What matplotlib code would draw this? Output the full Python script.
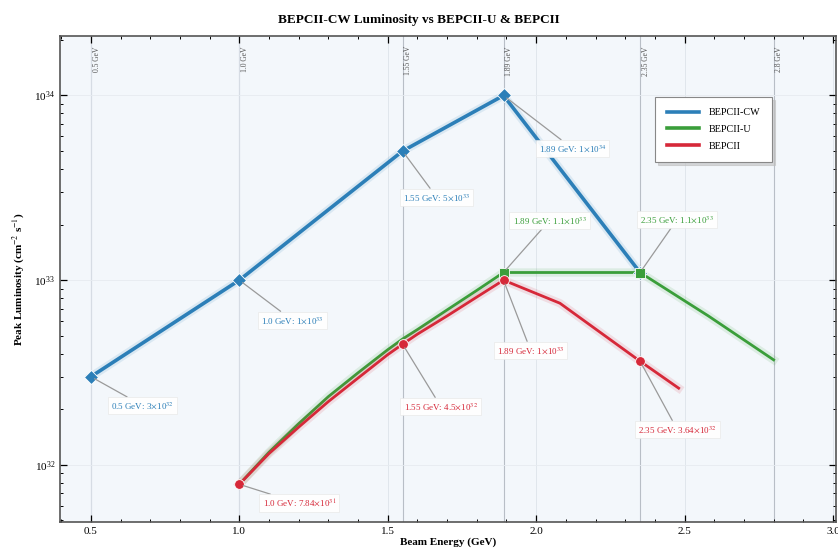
import matplotlib
matplotlib.use("Agg")
import matplotlib.pyplot as plt
import matplotlib.patheffects as pe
from matplotlib.ticker import MultipleLocator, LogLocator, NullFormatter

plt.rcParams['font.family'] = ['Liberation Serif', 'DejaVu Serif']
plt.rcParams['mathtext.fontset'] = 'stix'

# ---- data ----
cw_E = [0.5, 1.0, 1.55, 1.89, 2.35]
cw_L = [3e32, 1e33, 5e33, 1e34, 1.1e33]

u_E = [1.0, 1.1, 1.2, 1.3, 1.4, 1.5, 1.55, 1.6, 1.7, 1.8, 1.89, 2.35, 2.58, 2.8]
u_L = [7.84e31, 1.17e32, 1.67e32, 2.34e32, 3.15e32, 4.2e32, 4.8e32, 5.4e32,
       6.9e32, 8.8e32, 1.1e33, 1.1e33, 6.4e32, 3.7e32]
u_mark_E = [1.89, 2.35]
u_mark_L = [1.1e33, 1.1e33]

b_E = [1.0, 1.1, 1.2, 1.3, 1.4, 1.5, 1.55, 1.6, 1.7, 1.8, 1.89, 2.08, 2.35, 2.48]
b_L = [7.84e31, 1.15e32, 1.6e32, 2.2e32, 2.95e32, 3.95e32, 4.5e32, 5.1e32,
       6.4e32, 8.1e32, 1.0e33, 7.5e32, 3.64e32, 2.6e32]
b_mark_E = [1.0, 1.55, 1.89, 2.35]
b_mark_L = [7.84e31, 4.5e32, 1.0e33, 3.64e32]

vline_E = [0.5, 1.0, 1.55, 1.89, 2.35, 2.8]
vline_labels = ['0.5 GeV', '1.0 GeV', '1.55 GeV', '1.89 GeV', '2.35 GeV', '2.8 GeV']

cw_notes = ['0.5 GeV: 3$\\times$10$^{32}$', '1.0 GeV: 1$\\times$10$^{33}$',
            '1.55 GeV: 5$\\times$10$^{33}$', '1.89 GeV: 1$\\times$10$^{34}$']
u_notes = ['1.89 GeV: 1.1$\\times$10$^{33}$', '2.35 GeV: 1.1$\\times$10$^{33}$']
b_notes = ['1.0 GeV: 7.84$\\times$10$^{31}$', '1.55 GeV: 4.5$\\times$10$^{32}$',
           '1.89 GeV: 1$\\times$10$^{33}$', '2.35 GeV: 3.64$\\times$10$^{32}$']

c_cw = '#2c7fb8'
c_u = '#3a9e3a'
c_b = '#d62839'

fig = plt.figure(figsize=(8.38, 5.58), dpi=100)
ax = fig.add_axes([60/838, 36/558, 776/838, 486/558])
ax.set_facecolor('#f3f7fb')

ax.set_yscale('log')
ax.set_xlim(0.396, 3.01)
ax.set_ylim(4.9e31, 2.1e34)

ax.grid(True, which='major', axis='x', color='#dde3ea', lw=0.6)
ax.grid(True, which='major', axis='y', color='#e6ebf0', lw=0.6)

for e, lab in zip(vline_E, vline_labels):
    ax.axvline(e, color='#b8bec6', lw=0.8, zorder=1)
    ax.text(e + 0.006, 1.85e34, lab, rotation=90, va='top', ha='left',
            fontsize=5.5, color='#555555')

glow = lambda c: [pe.Stroke(linewidth=6, foreground=c, alpha=0.12), pe.Normal()]

ax.plot(cw_E, cw_L, color=c_cw, lw=2.6, label='BEPCII-CW', zorder=5,
        path_effects=glow(c_cw))
ax.plot(cw_E, cw_L, ls='none', color=c_cw, marker='D', ms=7, mec='white',
        mew=0.6, zorder=6)
ax.plot(u_E, u_L, color=c_u, lw=2.0, label='BEPCII-U', zorder=4,
        path_effects=glow(c_u))
ax.plot(u_mark_E, u_mark_L, ls='none', color=c_u, marker='s', ms=7, mec='white',
        mew=0.6, zorder=6)
ax.plot(b_E, b_L, color=c_b, lw=2.0, label='BEPCII', zorder=4,
        path_effects=glow(c_b))
ax.plot(b_mark_E, b_mark_L, ls='none', color=c_b, marker='o', ms=7, mec='white',
        mew=0.6, zorder=6)

def note(x, y, txt, off, col):
    ax.annotate(txt, xy=(x, y), xytext=off, textcoords='offset pixels',
                ha='center', va='center', fontsize=6.5, color=col, zorder=7,
                bbox=dict(boxstyle='square,pad=0.35', fc='white', ec='#e8e8e8',
                          lw=0.5, alpha=0.95),
                arrowprops=dict(arrowstyle='-', color='#9a9a9a', lw=0.9,
                                shrinkA=0, shrinkB=3))

cw_off = [(52, -29), (53, -40), (34, -46), (69, -53)]
for e, l, t, o in zip(cw_E[:4], cw_L[:4], cw_notes, cw_off):
    note(e, l, t, o, c_cw)
u_off = [(46, 52), (37, 53)]
for e, l, t, o in zip(u_mark_E, u_mark_L, u_notes, u_off):
    note(e, l, t, o, c_u)
b_off = [(60, -19), (38, -62), (27, -70), (37, -68)]
for e, l, t, o in zip(b_mark_E, b_mark_L, b_notes, b_off):
    note(e, l, t, o, c_b)

ax.xaxis.set_major_locator(MultipleLocator(0.5))
ax.xaxis.set_minor_locator(MultipleLocator(0.1))
ax.yaxis.set_major_locator(LogLocator(base=10, numticks=10))
ax.yaxis.set_minor_locator(LogLocator(base=10, subs=range(2, 10), numticks=10))
ax.yaxis.set_minor_formatter(NullFormatter())
ax.tick_params(which='both', direction='in', top=True, right=True, labelsize=8)
ax.tick_params(which='major', length=5, width=0.9)
ax.tick_params(which='minor', length=2.5, width=0.7)
for s in ax.spines.values():
    s.set_color('#555555')
    s.set_linewidth(1.2)

ax.set_xlabel('Beam Energy (GeV)', fontsize=8, fontweight='bold', labelpad=1)
ax.set_ylabel('Peak Luminosity (cm$^{-2}$ s$^{-1}$)', fontsize=8,
              fontweight='bold', labelpad=6)
fig.suptitle('BEPCII-CW Luminosity vs BEPCII-U & BEPCII', fontsize=9.5,
             fontweight='bold', y=0.975)

leg = ax.legend(loc='upper right', bbox_to_anchor=(0.924, 0.885), fontsize=7.3,
                frameon=True, fancybox=False,
                shadow={'color': '#bfbfbf', 'alpha': 0.6},
                borderpad=1.1, handlelength=3.2, labelspacing=0.75,
                handletextpad=1.0)
leg.get_frame().set_edgecolor('#888888')
leg.get_frame().set_linewidth(0.8)
for line in leg.get_lines():
    line.set_path_effects([])
    line.set_linewidth(2.6)

fig.savefig('out.png', dpi=100)
